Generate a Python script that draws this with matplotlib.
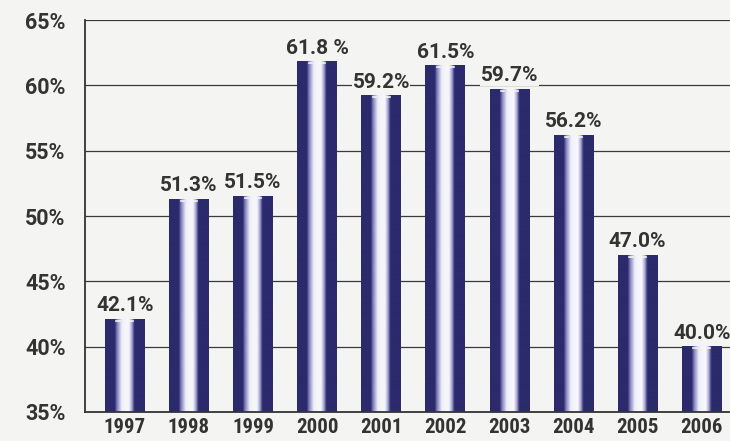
import numpy as np
import matplotlib.pyplot as plt
from matplotlib.colors import LinearSegmentedColormap
from matplotlib import font_manager

# -------------------------------
# Data
# -------------------------------
years = ['1997', '1998', '1999', '2000', '2001', '2002', '2003', '2004', '2005', '2006']
values = [42.1, 51.3, 51.5, 61.8, 59.2, 61.5, 59.7, 56.2, 47.0, 40.0]
labels = ['42.1%', '51.3%', '51.5%', '61.8 %', '59.2%', '61.5%', '59.7%', '56.2%', '47.0%', '40.0%']
yticks = [35, 40, 45, 50, 55, 60, 65]

bg = '#f4f4f2'
navy = '#2b2a6c'
txt = '#333333'

names = {f.name for f in font_manager.fontManager.ttflist}
font = ['Roboto', 'DejaVu Sans'] if 'Roboto' in names else ['DejaVu Sans']
narrow = ['Roboto Condensed', 'DejaVu Sans'] if 'Roboto Condensed' in names else font

# dark edges -> lavender -> white centre -> lavender -> dark edges
cmap = LinearSegmentedColormap.from_list('barfill', [
    (0.0, navy), (0.24, navy), (0.3, '#8080c0'), (0.42, '#f0f0f8'),
    (0.6, '#f8f8fc'), (0.68, '#a0a0d4'), (0.74, navy), (1.0, navy)])
grad = np.linspace(0, 1, 80).reshape(1, -1)

fig = plt.figure(figsize=(7.3, 4.41), dpi=100, facecolor=bg)
ax = fig.add_axes([0.1164, 0.0658, 0.8836, 0.8888])
ax.set_facecolor(bg)

ymin, ymax = 35, 65
ax.set_ylim(ymin, ymax)
ax.set_xlim(-0.62, 9.44)

# gridlines
for t in yticks[1:]:
    ax.axhline(t, color='#3a3a3a', lw=1.6 if t == 65 else 0.9, zorder=1)

width = 0.62
x = np.arange(len(years))
for xi, v, lab in zip(x, values, labels):
    ax.imshow(grad, cmap=cmap, aspect='auto', interpolation='bilinear',
              extent=(xi - width / 2, xi + width / 2, ymin, v), zorder=2)
    # small breaks in the dark caps at the bar top
    ax.plot([xi - 0.13, xi - 0.08], [v - 0.12, v - 0.12], color=bg, lw=1.2, zorder=3)
    ax.plot([xi + 0.08, xi + 0.13], [v - 0.12, v - 0.12], color=bg, lw=1.2, zorder=3)
    ax.text(xi, v + 0.3, lab, ha='center', va='bottom', fontsize=15,
            fontweight='bold', color=txt, family=font,
            zorder=4, bbox=dict(facecolor=bg, edgecolor='none', pad=0.3))

ax.set_yticks(yticks)
ax.set_yticklabels([f'{t}%' for t in yticks])
ax.set_xticks(x)
ax.set_xticklabels(years)
for lab in ax.get_yticklabels():
    lab.set_family(font)
    lab.set_fontsize(15.5)
    lab.set_fontweight('bold')
    lab.set_color(txt)
for lab in ax.get_xticklabels():
    lab.set_family(narrow)
    lab.set_fontsize(15)
    lab.set_fontweight('bold')
    lab.set_color(txt)
ax.tick_params(axis='x', length=0, pad=4)
ax.tick_params(axis='y', length=0, pad=14)

for s in ['top', 'right']:
    ax.spines[s].set_visible(False)
for s in ['left', 'bottom']:
    ax.spines[s].set_color(txt)
    ax.spines[s].set_linewidth(1.3)

plt.savefig('out.png', dpi=100, facecolor=bg)
